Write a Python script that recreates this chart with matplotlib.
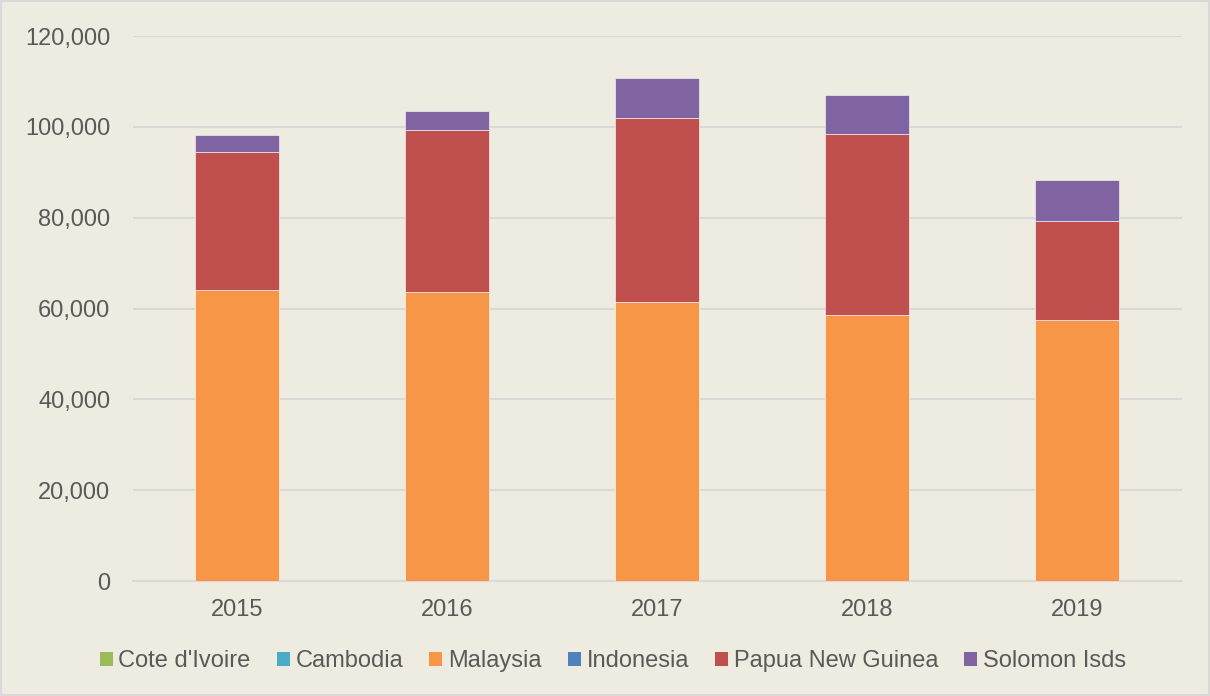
import matplotlib.pyplot as plt
import numpy as np
from matplotlib.ticker import FuncFormatter

plt.rcParams['font.family'] = ['Liberation Sans', 'DejaVu Sans']

# Data
years = ['2015', '2016', '2017', '2018', '2019']
cote_divoire = [0, 0, 0, 0, 0]
cambodia = [0, 0, 0, 0, 0]
malaysia = [64000, 63600, 61500, 58500, 57500]
indonesia = [0, 0, 0, 0, 0]
png = [30400, 35700, 40500, 39900, 21800]
solomon = [3800, 4200, 8700, 8500, 9000]

series = [
    ("Cote d'Ivoire", cote_divoire, '#9BBB59'),
    ('Cambodia', cambodia, '#4BACC6'),
    ('Malaysia', malaysia, '#F79646'),
    ('Indonesia', indonesia, '#4F81BD'),
    ('Papua New Guinea', png, '#C0504D'),
    ('Solomon Isds', solomon, '#8064A2'),
]

bg = '#EEEBE0'
txt = '#595959'

fig = plt.figure(figsize=(12.1, 6.96), dpi=100, facecolor=bg)
ax = fig.add_axes([132.5 / 1210, 1 - 581 / 696, 1049.5 / 1210, 545 / 696])
ax.set_facecolor(bg)

x = np.arange(len(years))
bottom = np.zeros(len(years))
for name, vals, col in series:
    vals = np.array(vals, dtype=float)
    ax.bar(x, vals, 0.4, bottom=bottom, color=col, label=name,
           edgecolor='#FFFFFF', linewidth=0.4, zorder=3)
    bottom += vals

ax.set_xlim(-0.5, len(years) - 0.5)
ax.set_ylim(0, 120000)
ax.set_yticks(np.arange(0, 120001, 20000))
ax.yaxis.set_major_formatter(FuncFormatter(lambda v, p: f'{int(v):,}'))
ax.set_xticks(x)
ax.set_xticklabels(years)
ax.grid(axis='y', color='#D9D9D9', linewidth=1.5, zorder=0)
for s in ['top', 'right', 'left']:
    ax.spines[s].set_visible(False)
ax.spines['bottom'].set_color('#D9D9D9')
ax.spines['bottom'].set_linewidth(1.5)
ax.tick_params(axis='both', length=0, colors=txt, labelsize=17)
ax.tick_params(axis='y', pad=16)
ax.tick_params(axis='x', pad=13)

handles, labels = ax.get_legend_handles_labels()
leg = fig.legend(handles, labels, loc='center', bbox_to_anchor=(613 / 1210, 1 - 661 / 696),
                 ncol=6, frameon=False, fontsize=17, handlelength=0.55,
                 handleheight=0.55, handletextpad=0.25, columnspacing=1.1)
for t in leg.get_texts():
    t.set_color(txt)
for h in leg.legend_handles:
    h.set_linewidth(0)

# outer border
fig.patches.append(plt.Rectangle((0.001, 0.001), 0.998, 0.998, transform=fig.transFigure,
                                 fill=False, edgecolor='#D9D9D9', linewidth=1.5))

fig.savefig('out.png', dpi=100, facecolor=bg)
